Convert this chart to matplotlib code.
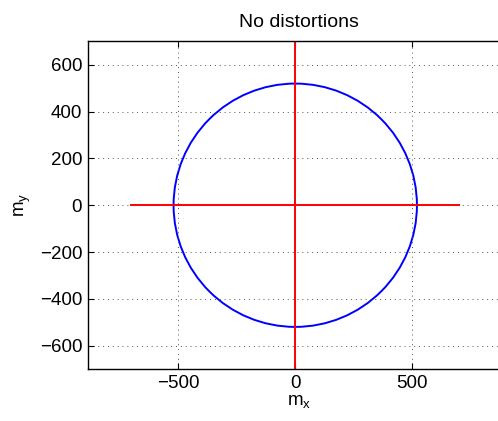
import numpy as np
import matplotlib as mpl
import matplotlib.pyplot as plt
from matplotlib.patches import Circle

mpl.rcParams['font.family'] = ['Liberation Sans', 'DejaVu Sans']
mpl.rcParams['mathtext.fontset'] = 'custom'
mpl.rcParams['mathtext.rm'] = 'Liberation Sans'
mpl.rcParams['mathtext.it'] = 'Liberation Sans'

# magnetometer data, undistorted
radius = 520
h_line_x = [-700, 700]
h_line_y = [0, 0]
v_line_x = [0, 0]
v_line_y = [-700, 700]
xticks = [-500, 0, 500]
yticks = [-600, -400, -200, 0, 200, 400, 600]

fs = 13.5

fig = plt.figure(figsize=(4.98, 4.21), dpi=100)
# axes run past the right edge of the figure (cropped, like the original)
ax = fig.add_axes([0.1761, 0.1235, 0.85, 0.778])

ax.add_patch(Circle((0, 0), radius, fill=False, color='#0000ff', lw=1.4))
ax.plot(h_line_x, h_line_y, color='#ff0000', lw=1.4)
ax.plot(v_line_x, v_line_y, color='#ff0000', lw=1.4)

ax.set_xlim(-887, 922)
ax.set_ylim(-700, 700)
ax.set_xticks(xticks)
ax.set_yticks(yticks)
ax.grid(True, linestyle=(0, (1, 4)), color='#555555', lw=0.7)
ax.tick_params(direction='in', top=True, right=False, labelsize=fs,
               length=4, width=0.8, pad=4)
for s in ax.spines.values():
    s.set_linewidth(1.0)
ax.spines['right'].set_visible(False)

ax.set_title('No distortions', fontsize=fs + 0.5, pad=10.5)
ax.set_xlabel('m$_\\mathrm{x}$', fontsize=fs, labelpad=1)
ax.set_ylabel('m$_\\mathrm{y}$', fontsize=fs, labelpad=5)

plt.savefig('out.png', dpi=100)
